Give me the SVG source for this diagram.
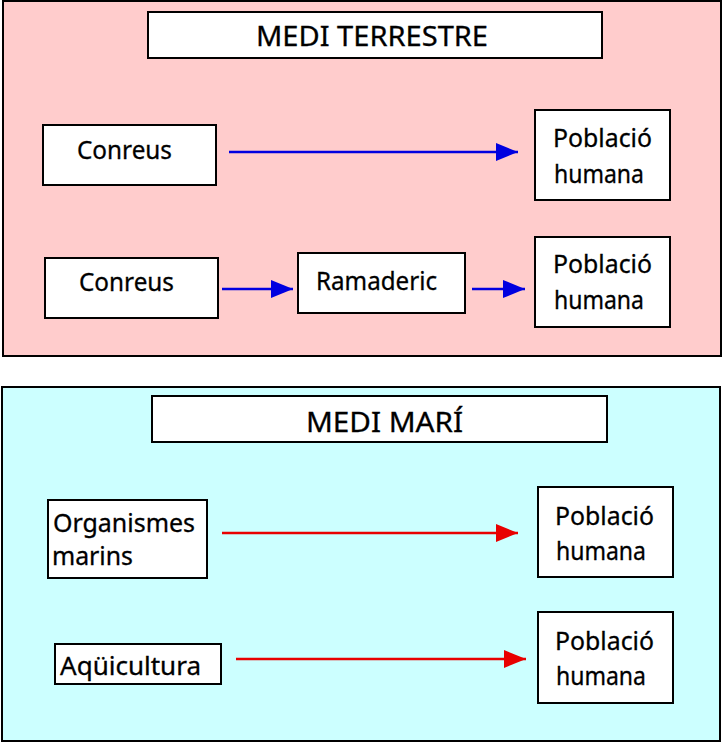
<svg xmlns="http://www.w3.org/2000/svg" width="723" height="743" viewBox="0 0 723 743">
<defs>
<style>
.panel{stroke:#000;stroke-width:2}
.box{fill:#fff;stroke:#000;stroke-width:2}
.t{font-family:"Comic Sans MS","Noto Sans","DejaVu Sans",sans-serif;font-size:25px;fill:#000;stroke:#000;stroke-width:0.3}
.tt{font-family:"Comic Sans MS","Noto Sans","DejaVu Sans",sans-serif;font-size:28px;fill:#000;stroke:#000;stroke-width:0.3}
.blue{stroke:#0000e0;stroke-width:2.5;fill:none}
.red{stroke:#e80000;stroke-width:2.5;fill:none}
</style>
<marker id="ab" markerUnits="userSpaceOnUse" markerWidth="24" markerHeight="20" refX="22" refY="10" orient="auto"><path d="M0,1 L22,10 L0,19 Z" fill="#0000e0"/></marker>
<marker id="ar" markerUnits="userSpaceOnUse" markerWidth="24" markerHeight="20" refX="22" refY="10" orient="auto"><path d="M0,1 L22,10 L0,19 Z" fill="#e80000"/></marker>
</defs>
<rect x="0" y="0" width="723" height="743" fill="#fff"/>
<rect class="panel" x="3" y="1" width="718" height="355" fill="#ffcccc"/>
<rect class="panel" x="2" y="387" width="718" height="354" fill="#ccffff"/>

<g id="title-terrestre"><rect class="box" x="148" y="12" width="454" height="46"/><text class="tt" x="256" y="46" textLength="232" lengthAdjust="spacingAndGlyphs">MEDI TERRESTRE</text></g>
<g id="conreus1"><rect class="box" x="43" y="125" width="173" height="60"/><text class="t" x="77" y="159" textLength="95" lengthAdjust="spacingAndGlyphs">Conreus</text></g>
<g id="poblacio1"><rect class="box" x="535" y="110" width="135" height="90"/><text class="t" x="553" y="147" textLength="99" lengthAdjust="spacingAndGlyphs">Població</text><text class="t" x="554" y="183" textLength="90" lengthAdjust="spacingAndGlyphs">humana</text></g>
<g id="conreus2"><rect class="box" x="45" y="258" width="173" height="60"/><text class="t" x="79" y="291" textLength="95" lengthAdjust="spacingAndGlyphs">Conreus</text></g>
<g id="ramaderia"><rect class="box" x="298" y="253" width="167" height="60"/><text class="t" x="316" y="290" textLength="121" lengthAdjust="spacingAndGlyphs">Ramaderic</text></g>
<g id="poblacio2"><rect class="box" x="535" y="237" width="135" height="90"/><text class="t" x="553" y="273" textLength="99" lengthAdjust="spacingAndGlyphs">Població</text><text class="t" x="554" y="309" textLength="90" lengthAdjust="spacingAndGlyphs">humana</text></g>

<g id="title-mari"><rect class="box" x="152" y="396" width="455" height="46"/><text class="tt" x="306" y="432" textLength="157" lengthAdjust="spacingAndGlyphs">MEDI MARÍ</text></g>
<g id="organismes"><rect class="box" x="48" y="500" width="159" height="78"/><text class="t" x="53" y="532" textLength="142" lengthAdjust="spacingAndGlyphs">Organismes</text><text class="t" x="52" y="565" textLength="81" lengthAdjust="spacingAndGlyphs">marins</text></g>
<g id="poblacio3"><rect class="box" x="538" y="487" width="135" height="90"/><text class="t" x="555" y="525" textLength="99" lengthAdjust="spacingAndGlyphs">Població</text><text class="t" x="556" y="560" textLength="90" lengthAdjust="spacingAndGlyphs">humana</text></g>
<g id="aquicultura"><rect class="box" x="55" y="644" width="166" height="40"/><text class="t" x="60" y="675" textLength="141" lengthAdjust="spacingAndGlyphs">Aqüicultura</text></g>
<g id="poblacio4"><rect class="box" x="538" y="612" width="135" height="91"/><text class="t" x="555" y="650" textLength="99" lengthAdjust="spacingAndGlyphs">Població</text><text class="t" x="556" y="685" textLength="90" lengthAdjust="spacingAndGlyphs">humana</text></g>

<g id="connectors">
<line class="blue" x1="229" y1="152" x2="518" y2="152" marker-end="url(#ab)"/>
<line class="blue" x1="222" y1="289" x2="293" y2="289" marker-end="url(#ab)"/>
<line class="blue" x1="472" y1="289" x2="525" y2="289" marker-end="url(#ab)"/>
<line class="red" x1="222" y1="533" x2="518" y2="533" marker-end="url(#ar)"/>
<line class="red" x1="236" y1="659" x2="526" y2="659" marker-end="url(#ar)"/>
</g>
</svg>
